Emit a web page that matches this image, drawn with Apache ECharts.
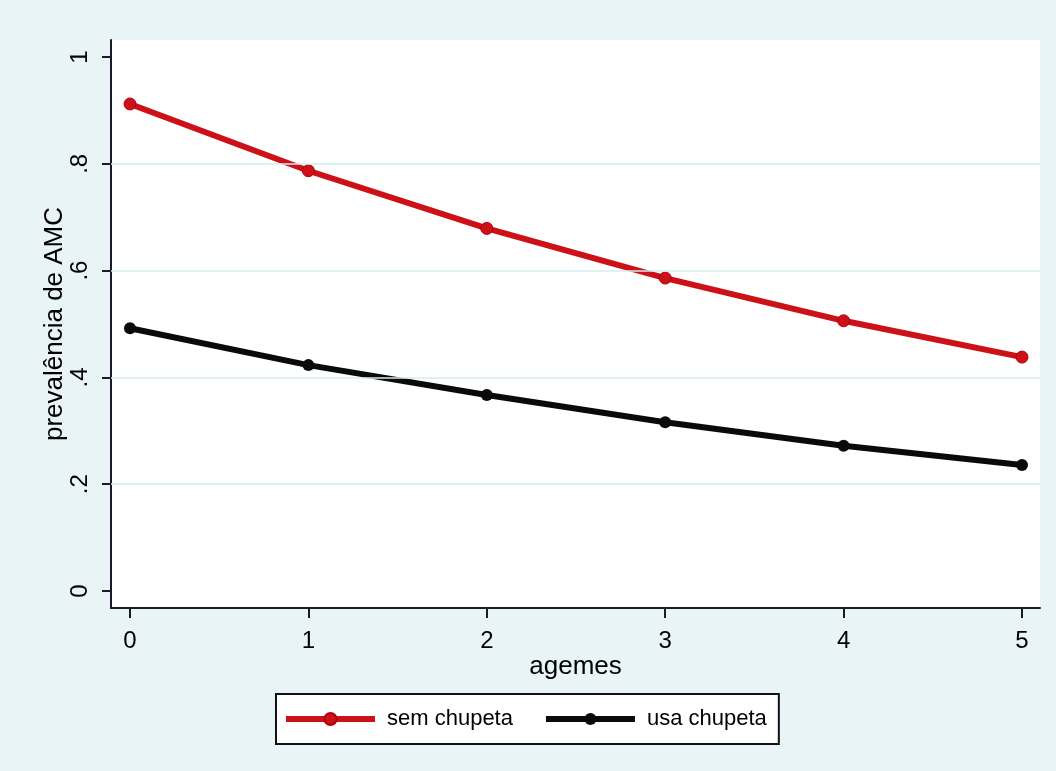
<!DOCTYPE html>
<html>
<head>
<meta charset="utf-8">
<script src="https://cdn.jsdelivr.net/npm/echarts@6/dist/echarts.min.js"></script>
<style>
html,body{margin:0;padding:0;background:#e9f4f6;}
#chart{width:1056px;height:771px;}
</style>
</head>
<body>
<div id="chart"></div>
<script>
// Data
const ages = [0, 1, 2, 3, 4, 5];
const semChupeta = [0.912, 0.787, 0.679, 0.586, 0.506, 0.438];
const usaChupeta = [0.492, 0.423, 0.367, 0.316, 0.272, 0.236];
const yTicks = [0, 0.2, 0.4, 0.6, 0.8, 1];
const yTickLabels = ['0', '.2', '.4', '.6', '.8', '1'];
const xTicks = [0, 1, 2, 3, 4, 5];
const gridValues = [0.2, 0.4, 0.6, 0.8];
const seriesNames = ['sem chupeta', 'usa chupeta'];

const FONT = '"Liberation Sans", Arial, Helvetica, sans-serif';
const RED = '#cc1218';
const BLACK = '#0a0a0a';
const AXIS = '#1a1a2a';

const chart = echarts.init(document.getElementById('chart'));

function pairs(vals) { return ages.map((a, i) => [a, vals[i]]); }

chart.setOption({
  backgroundColor: '#e9f4f6',
  animation: false,
  textStyle: { fontFamily: FONT },
  grid: {
    left: 111, right: 16, top: 40, bottom: 163,
    show: true, backgroundColor: '#ffffff', borderWidth: 0
  },
  xAxis: {
    type: 'value',
    min: -0.1065, max: 5.1009,
    name: 'agemes',
    nameLocation: 'middle',
    nameGap: 46,
    nameMoveOverlap: false,
    nameTextStyle: { fontSize: 26, color: '#000', fontFamily: FONT },
    axisLine: { show: true, onZero: false, lineStyle: { color: AXIS, width: 2 } },
    axisTick: { show: true, inside: false, length: 10, customValues: xTicks, lineStyle: { color: AXIS, width: 2 } },
    axisLabel: { customValues: xTicks, fontSize: 24, color: '#000', margin: 21, fontFamily: FONT,
                 formatter: v => String(v) },
    splitLine: { show: false }
  },
  yAxis: {
    type: 'value',
    min: -0.0318, max: 1.0318,
    name: 'prevalência de AMC',
    nameLocation: 'middle',
    nameRotate: 90,
    nameGap: 43,
    nameMoveOverlap: false,
    nameTextStyle: { fontSize: 26, color: '#000', fontFamily: FONT },
    axisLine: { show: true, onZero: false, lineStyle: { color: AXIS, width: 2 } },
    axisTick: { show: true, inside: false, length: 9, customValues: yTicks, lineStyle: { color: AXIS, width: 2 } },
    axisLabel: {
      customValues: yTicks, rotate: 90, fontSize: 24, color: '#000', margin: 19, fontFamily: FONT,
      formatter: v => { const i = yTicks.findIndex(t => Math.abs(t - v) < 1e-6); return i >= 0 ? yTickLabels[i] : ''; }
    },
    splitLine: { show: false }
  },
  legend: {
    data: seriesNames,
    left: 276, top: 694,
    orient: 'horizontal',
    itemWidth: 89, itemHeight: 15,
    itemGap: 30,
    padding: [14, 12, 14, 7],
    borderColor: '#111', borderWidth: 2,
    backgroundColor: '#ffffff',
    textStyle: { fontSize: 22, color: '#000', fontFamily: FONT, padding: [0, 0, 0, 7] },
    lineStyle: { width: 6 }
  },
  series: [
    {
      name: seriesNames[0],
      type: 'line',
      data: pairs(semChupeta),
      symbol: 'circle', symbolSize: 12,
      lineStyle: { color: RED, width: 6 },
      itemStyle: { color: RED, borderColor: '#b00010', borderWidth: 1 },
      markLine: {
        silent: true, symbol: 'none', label: { show: false },
        lineStyle: { color: '#d3ecf2', width: 1.5, type: 'solid' },
        data: gridValues.map(v => ({ yAxis: v }))
      },
      z: 3
    },
    {
      name: seriesNames[1],
      type: 'line',
      data: pairs(usaChupeta),
      symbol: 'circle', symbolSize: 12,
      lineStyle: { color: BLACK, width: 6 },
      itemStyle: { color: BLACK },
      z: 3
    }
  ]
});
</script>
</body>
</html>
